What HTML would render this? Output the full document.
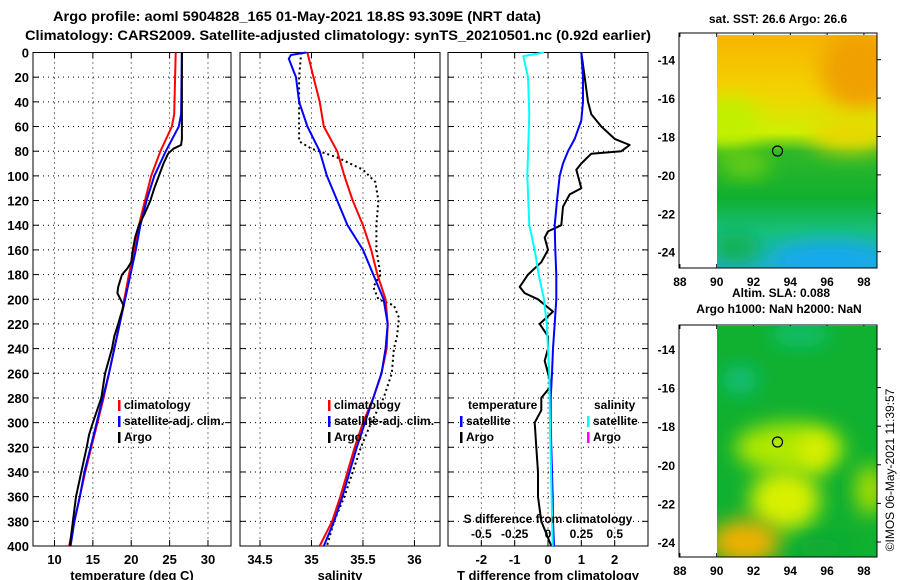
<!DOCTYPE html>
<html><head><meta charset="utf-8"><style>
body{margin:0;background:#fff;}
svg{display:block;font-family:"Liberation Sans",sans-serif;font-weight:bold;}
</style></head><body>
<svg id="c" width="900" height="580" viewBox="0 0 900 580" xmlns="http://www.w3.org/2000/svg">
<defs>
<filter id="bl" x="-50%" y="-50%" width="200%" height="200%"><feGaussianBlur stdDeviation="10"/></filter>
<clipPath id="m1c"><rect x="717" y="35" width="160" height="233"/></clipPath>
<clipPath id="m2c"><rect x="717" y="326" width="160" height="231"/></clipPath>
<linearGradient id="g1" x1="0" y1="0" x2="0" y2="1">
<stop offset="0" stop-color="#f7b400"/><stop offset="0.25" stop-color="#f2d400"/><stop offset="0.42" stop-color="#cdf000"/>
<stop offset="0.5" stop-color="#30b828"/><stop offset="0.7" stop-color="#10b030"/><stop offset="0.85" stop-color="#18c080"/><stop offset="1" stop-color="#20b0d0"/>
</linearGradient>
</defs>
<text x="297" y="21" text-anchor="middle" font-size="14" textLength="488" lengthAdjust="spacingAndGlyphs">Argo profile: aoml 5904828_165 01-May-2021 18.8S 93.309E (NRT data)</text>
<text x="338" y="40" text-anchor="middle" font-size="14" textLength="626" lengthAdjust="spacingAndGlyphs">Climatology: CARS2009. Satellite-adjusted climatology: synTS_20210501.nc (0.92d earlier)</text>
<g id="plots"></g>

<g>
<text x="778" y="23" text-anchor="middle" font-size="12">sat. SST: 26.6 Argo: 26.6</text>
<g clip-path="url(#m1c)">
<rect x="717" y="35" width="160" height="233" fill="url(#g1)"/>
<ellipse cx="860" cy="70" rx="40" ry="40" fill="#f0a000" filter="url(#bl)"/>
<ellipse cx="730" cy="122" rx="30" ry="25" fill="#c0f000" filter="url(#bl)"/>
<ellipse cx="850" cy="134" rx="40" ry="18" fill="#e8d800" filter="url(#bl)"/>
<ellipse cx="745" cy="165" rx="25" ry="12" fill="#70d010" filter="url(#bl)"/>
<ellipse cx="830" cy="260" rx="60" ry="18" fill="#18a8f0" filter="url(#bl)"/>
<ellipse cx="735" cy="248" rx="25" ry="15" fill="#10b050" filter="url(#bl)"/>
</g>
<circle cx="777.5" cy="151" r="5" fill="none" stroke="#000" stroke-width="1.2"/>
<rect x="679" y="33" width="198" height="235" fill="none" stroke="#000"/>
</g>
<text x="781" y="297" text-anchor="middle" font-size="12">Altim. SLA: 0.088</text>
<text x="779" y="313" text-anchor="middle" font-size="12">Argo h1000: NaN h2000: NaN</text>
<g>
<g clip-path="url(#m2c)">
<rect x="717" y="326" width="160" height="231" fill="#10b030"/>
<ellipse cx="740" cy="380" rx="18" ry="14" fill="#10c080" filter="url(#bl)"/>
<ellipse cx="800" cy="335" rx="30" ry="12" fill="#10c070" filter="url(#bl)"/>
<ellipse cx="790" cy="448" rx="55" ry="25" fill="#b0e800" filter="url(#bl)"/>
<ellipse cx="815" cy="452" rx="14" ry="20" fill="#e0f000" filter="url(#bl)"/>
<ellipse cx="785" cy="500" rx="35" ry="30" fill="#d8f000" filter="url(#bl)"/>
<ellipse cx="745" cy="542" rx="35" ry="22" fill="#f0b000" filter="url(#bl)"/>
<ellipse cx="870" cy="490" rx="14" ry="25" fill="#b0e000" filter="url(#bl)"/>
<ellipse cx="820" cy="548" rx="25" ry="10" fill="#10a838" filter="url(#bl)"/>
</g>
<circle cx="777.5" cy="442" r="5" fill="none" stroke="#000" stroke-width="1.2"/>
<rect x="679" y="325" width="198" height="232" fill="none" stroke="#000"/>
</g>
<text transform="translate(894,470) rotate(-90)" text-anchor="middle" font-size="12" font-weight="normal">©IMOS 06-May-2021 11:39:57</text>
</svg>
<script>
const depthLabels=[0,20,40,60,80,100,120,140,160,180,200,220,240,260,280,300,320,340,360,380,400];
const climTDepth=[0,50,60,80,100,120,140,160,180,200,220,240,260,280,300,320,340,360,380,400];
const climT=[25.8,25.6,25.3,23.8,22.6,21.8,21.0,20.4,19.7,19.1,18.5,17.8,17.1,16.4,15.6,14.8,14.0,13.3,12.6,11.9];
const satTDepth=[0,50,60,80,100,120,140,160,180,200,220,240,260,280,300,320,340,360,380,400];
const satT=[26.6,26.5,26.2,24.5,23.0,22.0,21.2,20.6,19.9,19.2,18.5,17.8,17.1,16.3,15.5,14.7,13.9,13.3,12.6,12.1];
const argoTDepth=[0,70,75,78,82,90,100,110,120,130,140,150,160,170,175,180,190,195,200,205,220,230,240,260,280,300,310,320,340,360,380,400];
const argoT=[26.6,26.6,26.5,25.5,24.8,24.2,23.6,23.0,22.5,21.8,21.0,20.5,20.2,20.0,19.5,18.8,18.3,18.2,18.6,19.0,18.3,17.8,17.5,16.6,16.1,15.0,14.5,14.2,13.5,12.8,12.4,12.0];
const climSDepth=[0,20,40,60,80,100,120,140,160,180,200,220,240,260,280,300,320,340,360,380,400];
const climS=[34.96,35.02,35.08,35.12,35.25,35.32,35.40,35.50,35.58,35.64,35.72,35.74,35.73,35.68,35.60,35.50,35.42,35.35,35.28,35.20,35.08];
const satSDepth=[0,2,5,20,40,60,80,100,120,140,160,180,200,220,240,260,280,300,320,340,360,380,400];
const satS=[34.95,34.80,34.78,34.85,34.88,34.96,35.08,35.15,35.25,35.35,35.50,35.60,35.70,35.74,35.72,35.68,35.60,35.52,35.44,35.37,35.30,35.22,35.12];
const argoSDepth=[0,20,40,60,72,78,85,95,105,120,140,160,180,190,200,205,215,230,240,260,280,300,320,340,360,380,400];
const argoS=[34.90,34.88,34.88,34.88,34.88,35.00,35.25,35.50,35.62,35.65,35.63,35.63,35.67,35.60,35.65,35.80,35.85,35.83,35.80,35.78,35.70,35.58,35.48,35.40,35.32,35.22,35.15];
const dTsatDepth=[0,20,40,55,70,80,90,100,120,140,160,180,200,220,240,260,280,300,320,340,360,380,400];
const dTsat=[1.0,1.05,1.05,1.0,0.8,0.6,0.45,0.35,0.27,0.2,0.22,0.25,0.25,0.2,0.15,0.12,0.08,0.08,0.1,0.12,0.14,0.15,0.18];
const dTargoDepth=[0,10,20,40,50,60,70,75,80,82,90,95,100,110,115,125,140,145,150,160,170,180,190,195,200,210,220,230,240,250,260,270,280,290,300,320,340,360,380,400];
const dTargo=[1.0,1.05,1.1,1.2,1.3,1.6,2.0,2.45,2.2,1.3,1.0,0.85,0.9,1.0,0.65,0.45,0.4,0.0,-0.1,0.0,-0.2,-0.6,-0.85,-0.7,-0.3,0.15,-0.25,0.0,0.0,-0.1,0.0,0.1,-0.2,-0.2,-0.4,-0.35,-0.3,-0.3,-0.2,0.1];
const dSsatDepth=[0,3,20,50,100,140,160,180,200,220,240,260,300,400];
const dSsat=[-0.03,-0.185,-0.15,-0.14,-0.155,-0.14,-0.1,-0.07,-0.03,-0.01,0.0,0.01,0.015,0.035];
const tTicks=[10,15,20,25,30], sTicks=[34.5,35,35.5,36], dTicks=[-2,-1,0,1,2], dsTicks=[-0.5,-0.25,0,0.25,0.5];
const dsTickLabels=["-0.5","-0.25","0","0.25","0.5"];

const NS="http://www.w3.org/2000/svg";
const G=document.getElementById('plots');
function el(tag,attrs,parent){const e=document.createElementNS(NS,tag);for(const k in attrs)e.setAttribute(k,attrs[k]);(parent||G).appendChild(e);return e;}
const Y0=52.5,Y1=546;
const yS=d=>Y0+(d/400)*(Y1-Y0);
function panel(name,x0,x1,xmin,xmax,ticks,labels,title){
  const xs=v=>x0+(v-xmin)/(xmax-xmin)*(x1-x0);
  const g=el('g',{});
  
  
  depthLabels.forEach(d=>{const y=yS(d);
    if(d>0&&d<400){const l=el('line',{x1:x0,x2:x1,y1:y,y2:y,stroke:'#000','stroke-width':1,'stroke-dasharray':'1,4'},g);
      }
    el('line',{x1:x0,x2:x0+6,y1:y,y2:y,stroke:'#000'},g);el('line',{x1:x1-6,x2:x1,y1:y,y2:y,stroke:'#000'},g);});
  ticks.forEach((t,i)=>{const x=xs(t);
    el('line',{x1:x,x2:x,y1:Y0,y2:Y1,stroke:'#000','stroke-dasharray':'1,4'},g);
    el('line',{x1:x,x2:x,y1:Y0,y2:Y0+6,stroke:'#000'},g);el('line',{x1:x,x2:x,y1:Y1-6,y2:Y1,stroke:'#000'},g);
    const tx=el('text',{x:x,y:564,'text-anchor':'middle','font-size':13},g);tx.textContent=labels[i];
    });
  el('rect',{x:x0,y:Y0,width:x1-x0,height:Y1-Y0,fill:'none',stroke:'#000'},g);
  const tt=el('text',{x:(x0+x1)/2,y:580,'text-anchor':'middle','font-size':13},g);tt.textContent=title;
  
  return {g,xs};
}
function line(p,depths,vals,color,name,extra){
  const pts=depths.map((d,i)=>p.xs(vals[i]).toFixed(1)+','+yS(d).toFixed(1)).join(' ');
  const a={points:pts,fill:'none',stroke:color,'stroke-width':2,'stroke-linejoin':'round'};
  if(extra)Object.assign(a,extra);
  const l=el('polyline',a,p.g);
  
  
}
function legend(p,x,y,color,label,name){
  el('rect',{x:x,y:y-9,width:2.5,height:11,fill:color},p.g);
  const t=el('text',{x:x+6,y:y,'font-size':12},p.g);t.textContent=label;
  
}
depthLabels.forEach(d=>{const t=el('text',{x:29,y:yS(d)+5,'text-anchor':'end','font-size':13});t.textContent=d;
  });

const pT=panel('temperature-panel',33,231,7.2,33,tTicks,tTicks.map(String),'temperature (deg C)');
line(pT,climTDepth,climT,'#f00','temperature-climatology-line');
line(pT,satTDepth,satT,'#00f','temperature-satellite-line');
line(pT,argoTDepth,argoT,'#000','temperature-argo-line');
legend(pT,118,409,'#f00','climatology','legend-climatology');
legend(pT,118,425,'#00f','satellite-adj. clim.','legend-satellite');
legend(pT,118,441,'#000','Argo','legend-argo');

const pS=panel('salinity-panel',240,440,34.306,36.248,sTicks,['34.5','35','35.5','36'],'salinity');
line(pS,argoSDepth,argoS,'#000','salinity-argo-line',{'stroke-dasharray':'2,3'});
line(pS,climSDepth,climS,'#f00','salinity-climatology-line');
line(pS,satSDepth,satS,'#00f','salinity-satellite-line');
legend(pS,328,409,'#f00','climatology','legend-climatology');
legend(pS,328,425,'#00f','satellite-adj. clim.','legend-satellite');
legend(pS,328,441,'#000','Argo','legend-argo');

const pD=panel('difference-panel',448,648,-3,3,dTicks,dTicks.map(String),'T difference from climatology');
const xsS=pD.xs;
line(pD,dTargoDepth,dTargo,'#000','t-diff-argo-line');
line(pD,dTsatDepth,dTsat,'#00f','t-diff-satellite-line');
line({g:pD.g,xs:v=>xsS(v*4)},dSsatDepth,dSsat,'#0ff','s-diff-satellite-line');
dsTicks.forEach((t,i)=>{const tx=el('text',{x:xsS(t*4),y:538,'text-anchor':'middle','font-size':12},pD.g);tx.textContent=dsTickLabels[i];
  });
const st=el('text',{x:548,y:523,'text-anchor':'middle','font-size':12},pD.g);st.textContent='S difference from climatology';

const h1=el('text',{x:468,y:409,'font-size':12},pD.g);h1.textContent='temperature';

const h2=el('text',{x:594,y:409,'font-size':12},pD.g);h2.textContent='salinity';

legend(pD,460,425,'#00f','satellite','legend-t-satellite');
legend(pD,460,441,'#000','Argo','legend-t-argo');
legend(pD,587,425,'#0ff','satellite','legend-s-satellite');
legend(pD,587,441,'#f0f','Argo','legend-s-argo');

const lonTicks=[88,90,92,94,96,98], latTicks=[-14,-16,-18,-20,-22,-24];
const lonX=v=>716.7+(v-90)*18.4;
[[59.7,19.2,268,33],[349,19.3,557,325]].forEach(([y14,k,yb,yt],m)=>{
  lonTicks.forEach(v=>{const x=lonX(v);el('line',{x1:x,x2:x,y1:yb,y2:yb-4,stroke:'#000'});el('line',{x1:x,x2:x,y1:yt,y2:yt+4,stroke:'#000'});
    const t=el('text',{x:x,y:yb+18,'text-anchor':'middle','font-size':12});t.textContent=v;
    });
  latTicks.forEach(v=>{const y=y14+(-14-v)*k;el('line',{x1:877,x2:881,y1:y,y2:y,stroke:'#000'});
    const t=el('text',{x:675,y:y+5,'text-anchor':'end','font-size':12});t.textContent=v;
    });
});
</script>
</body></html>
